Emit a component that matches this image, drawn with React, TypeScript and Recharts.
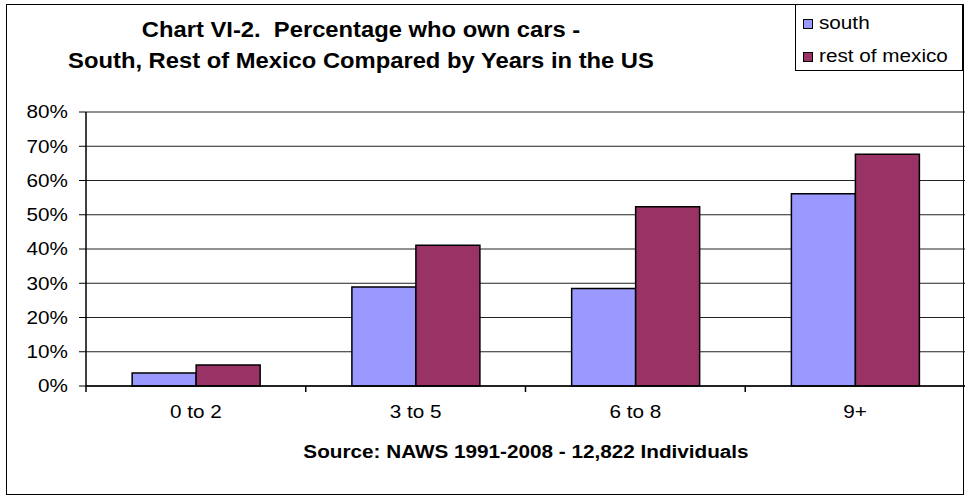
import React from 'react';
import { BarChart, Bar, XAxis, YAxis, CartesianGrid, Legend } from 'recharts';

const categories = ['0 to 2', '3 to 5', '6 to 8', '9+'];
const south = [3.8, 28.9, 28.5, 56.1];
const restOfMexico = [6.1, 41.1, 52.3, 67.7];
const yTicks = [0, 10, 20, 30, 40, 50, 60, 70, 80];

const data = categories.map((c, i) => ({ years: c, south: south[i], rest: restOfMexico[i] }));

const font = '"Liberation Sans", Arial, sans-serif';
const SOUTH = '#9999FF';
const REST = '#993366';
const STRETCH = 1.15;

function XTick(props: any) {
  const { x, y, payload } = props;
  const off = payload && typeof payload.offset === 'number' ? payload.offset : 0;
  return (
    <g>
      {off > 0 && <line x1={x - off} x2={x - off} y1={y} y2={y + 6} stroke="#000" strokeWidth={1.5} />}
      <text
        transform={`translate(${x},${y + 19}) scale(${STRETCH},1)`}
        textAnchor="middle"
        dy="0.71em"
        fontSize={18}
        fontFamily={font}
        fill="#000"
      >
        {payload.value}
      </text>
    </g>
  );
}

function YTick(props: any) {
  const { x, y, payload } = props;
  return (
    <text
      transform={`translate(${x},${y}) scale(${STRETCH},1)`}
      textAnchor="end"
      dy="0.36em"
      fontSize={18}
      fontFamily={font}
      fill="#000"
    >
      {`${payload.value}%`}
    </text>
  );
}

function LegendBox() {
  const items = [
    { label: 'south', color: SOUTH },
    { label: 'rest of mexico', color: REST },
  ];
  return (
    <div
      style={{
        border: '1px solid #000',
        background: '#fff',
        width: 168,
        height: 67,
        boxSizing: 'border-box',
        padding: '2px 0 0 7px',
        fontFamily: font,
        fontSize: 18,
        color: '#000',
      }}
    >
      {items.map((it) => (
        <div key={it.label} style={{ display: 'flex', alignItems: 'center', height: 33 }}>
          <span
            style={{
              width: 8,
              height: 8,
              border: '1px solid #000',
              background: it.color,
              marginRight: 6,
              display: 'inline-block',
            }}
          />
          <span style={{ display: 'inline-block', transform: `scaleX(${STRETCH})`, transformOrigin: 'left center' }}>
            {it.label}
          </span>
        </div>
      ))}
    </div>
  );
}

export default function App() {
  return (
    <div style={{ position: 'absolute', left: 0, top: 0, width: 969, height: 502, background: '#fff' }}>
      <div
        style={{
          position: 'absolute',
          left: 6,
          top: 4,
          width: 958,
          height: 491,
          border: '1px solid #000',
          boxSizing: 'border-box',
        }}
      />
      <div
        style={{
          position: 'absolute',
          left: 0,
          top: 14,
          width: 722,
          textAlign: 'center',
          fontFamily: font,
          fontWeight: 'bold',
          fontSize: 22,
          lineHeight: '31px',
          transform: 'scaleX(1.08)',
        }}
      >
        <div>Chart VI-2.&nbsp; Percentage who own cars -</div>
        <div>South, Rest of Mexico Compared by Years in the US</div>
      </div>
      <div
        style={{
          position: 'absolute',
          left: 86,
          top: 442,
          width: 880,
          textAlign: 'center',
          fontFamily: font,
          fontWeight: 'bold',
          fontSize: 18,
          transform: `scaleX(${STRETCH})`,
        }}
      >
        Source: NAWS 1991-2008 - 12,822 Individuals
      </div>
      <BarChart
        width={969}
        height={502}
        data={data}
        margin={{ top: 112, right: 4, bottom: 0, left: 6 }}
        barCategoryGap="21%"
        barGap={0}
        style={{ position: 'absolute', left: 0, top: 0 }}
      >
        <CartesianGrid vertical={false} stroke="#222" strokeWidth={1} />
        <XAxis
          dataKey="years"
          height={116}
          axisLine={{ stroke: '#000', strokeWidth: 1.5 }}
          tickLine={false}
          tickSize={0}
          tickMargin={0}
          tick={<XTick />}
        />
        <YAxis
          domain={[0, 80]}
          ticks={yTicks}
          width={80}
          axisLine={{ stroke: '#000', strokeWidth: 1.5 }}
          tickLine={{ stroke: '#000' }}
          tickSize={7}
          tickMargin={11}
          tick={<YTick />}
        />
        <Legend
          layout="horizontal"
          verticalAlign="middle"
          align="center"
          content={() => <LegendBox />}
          wrapperStyle={{ position: 'absolute', left: 795, top: 4, width: 168 }}
        />
        <Bar dataKey="south" name="south" fill={SOUTH} stroke="#000" strokeWidth={1.5} isAnimationActive={false} />
        <Bar dataKey="rest" name="rest of mexico" fill={REST} stroke="#000" strokeWidth={1.5} isAnimationActive={false} />
      </BarChart>
    </div>
  );
}
